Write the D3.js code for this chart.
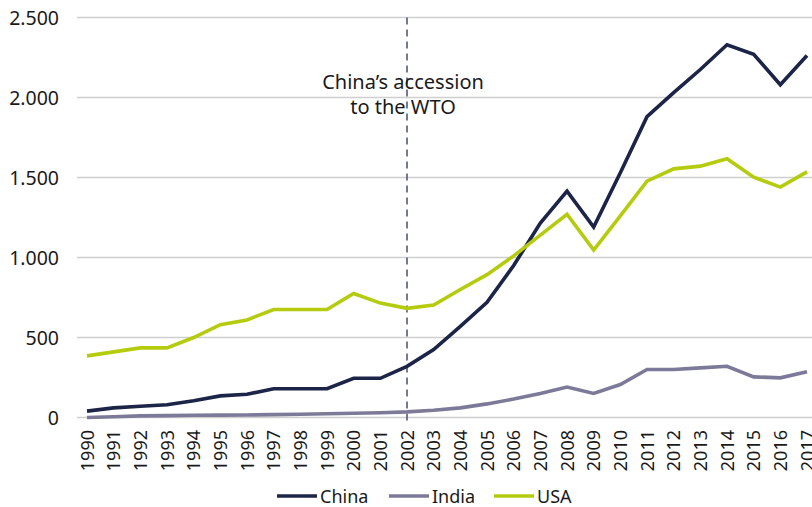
<!DOCTYPE html>
<html><head><meta charset="utf-8">
<script src="https://cdn.jsdelivr.net/npm/d3@7"></script>
<style>
body{margin:0;background:#fff;}
svg text{font-family:"Noto Sans","Open Sans",sans-serif;fill:#1a1a1a;}
</style></head>
<body><svg id="c" width="812" height="507"></svg>
<script>
const years = d3.range(1990, 2018).map(String);
const china = [40,60,70,80,105,135,145,180,180,180,245,245,320,425,570,720,950,1215,1415,1190,1530,1880,2030,2175,2330,2270,2080,2262];
const india = [0,5,10,12,14,15,16,18,20,23,27,30,35,45,60,85,115,150,190,150,206,300,300,310,320,254,248,286];
const usa = [385,410,435,435,500,580,610,675,675,675,775,715,682,703,800,893,1010,1140,1270,1046,1260,1477,1554,1571,1617,1502,1440,1535];
const yTicks = [0,500,1000,1500,2000,2500];
const seriesNames = ["China","India","USA"];
const colors = ["#1c2448","#7d7a99","#b5cc0e"];
const annotation = ["China’s accession","to the WTO"];
const wtoYear = "2002";

const svg = d3.select("#c");
const x = d3.scalePoint().domain(years).range([87,807]);
const y = d3.scaleLinear().domain([0,2500]).range([417.5,17.5]);
const fmt = v => d3.format(",")(v).replace(/,/g,".");

svg.append("g").selectAll("line").data(yTicks).join("line")
  .attr("x1",77).attr("x2",812).attr("y1",d=>y(d)).attr("y2",d=>y(d))
  .attr("stroke","#cfcfcf").attr("stroke-width",1.5);
svg.append("g").selectAll("text").data(yTicks).join("text")
  .attr("x",59).attr("y",d=>y(d)+7).attr("text-anchor","end")
  .attr("font-size",19.5).text(fmt);
svg.append("g").selectAll("text").data(years).join("text")
  .attr("transform",d=>`translate(${x(d)+6.5},430) rotate(-90)`)
  .attr("text-anchor","end").attr("font-size",18).text(d=>d);

svg.append("line").attr("x1",x(wtoYear)).attr("x2",x(wtoYear))
  .attr("y1",y(2500)).attr("y2",424)
  .attr("stroke","#4a4c72").attr("stroke-width",1.5).attr("stroke-dasharray","7,5");

const line = d3.line().x((d,i)=>x(years[i])).y(d=>y(d));
[china,india,usa].forEach((s,k)=>{
  svg.append("path").datum(s).attr("d",line).attr("fill","none")
    .attr("stroke",colors[k]).attr("stroke-width",3.6).attr("stroke-linejoin","miter");
});

svg.append("g").selectAll("text").data(annotation).join("text")
  .attr("x",403).attr("y",(d,i)=>89+i*24.5).attr("text-anchor","middle")
  .attr("font-size",20).text(d=>d);

const legX = [277,389,494];
const lg = svg.append("g").selectAll("g").data(seriesNames).join("g")
  .attr("transform",(d,i)=>`translate(${legX[i]},0)`);
lg.append("line").attr("x1",0).attr("x2",40).attr("y1",496).attr("y2",496)
  .attr("stroke",(d,i)=>colors[i]).attr("stroke-width",3.6);
lg.append("text").attr("x",43).attr("y",503).attr("font-size",18).text(d=>d);
</script></body></html>
